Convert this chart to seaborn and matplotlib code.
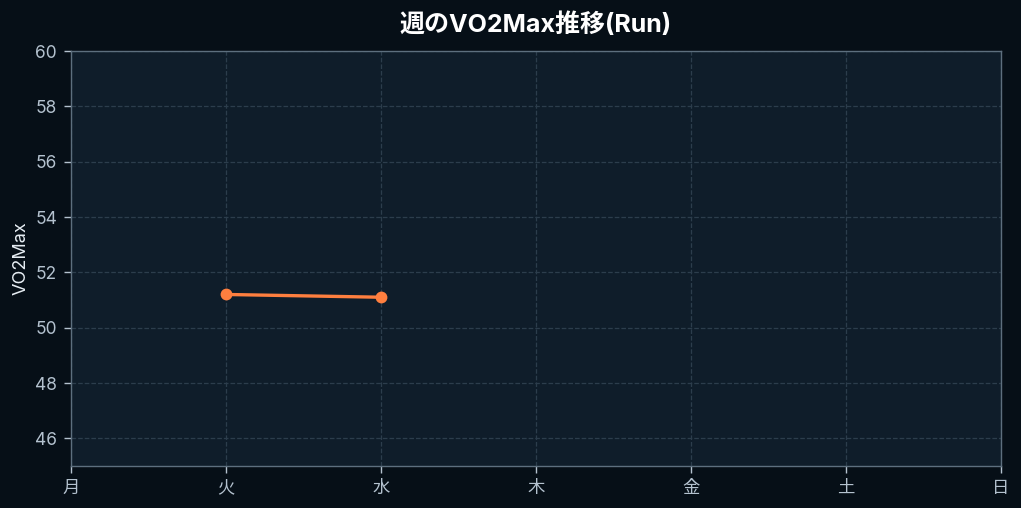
import pandas as pd
import matplotlib.pyplot as plt
import seaborn as sns

# Weekly VO2Max data
days = ['月', '火', '水', '木', '金', '土', '日']
run_days = ['火', '水']
vo2max = [51.2, 51.1]

df = pd.DataFrame({'day': [days.index(d) for d in run_days], 'vo2max': vo2max})

sns.set_style('dark')
plt.rcParams['font.family'] = ['Inter', 'Noto Sans CJK JP', 'DejaVu Sans']

fig = plt.figure(figsize=(10.21, 5.08), dpi=100, facecolor='#060f17')
ax = fig.add_axes([71 / 1021, 1 - 466 / 508, 930 / 1021, 415 / 508])
ax.set_facecolor('#0f1d2a')

sns.lineplot(data=df, x='day', y='vo2max', ax=ax, color='#ff7f3f', linewidth=2.4,
             marker='o', markersize=8.5, markeredgewidth=0)

ax.set_xlim(0, 6)
ax.set_ylim(45, 60)
ax.set_xticks(range(len(days)))
ax.set_xticklabels(days)
ax.set_yticks(range(46, 61, 2))
ax.grid(True, color='#2c3d4c', linestyle='--', linewidth=0.9)
ax.set_axisbelow(True)

for s in ax.spines.values():
    s.set_color('#5d6f7e')
    s.set_linewidth(1)
ax.tick_params(colors='#b4c2cf', labelsize=12.5, length=5, width=1, direction='out',
               bottom=True, left=True, pad=5)
for lbl in ax.get_xticklabels() + ax.get_yticklabels():
    lbl.set_color('#b4c2cf')

ax.set_xlabel('')
ax.set_ylabel('VO2Max', color='#e6edf3', fontsize=13, labelpad=4)
ax.set_title('週のVO2Max推移(Run)', color='#ffffff', fontsize=18, fontweight='bold', pad=14)

fig.savefig('out.png', dpi=100, facecolor=fig.get_facecolor())
